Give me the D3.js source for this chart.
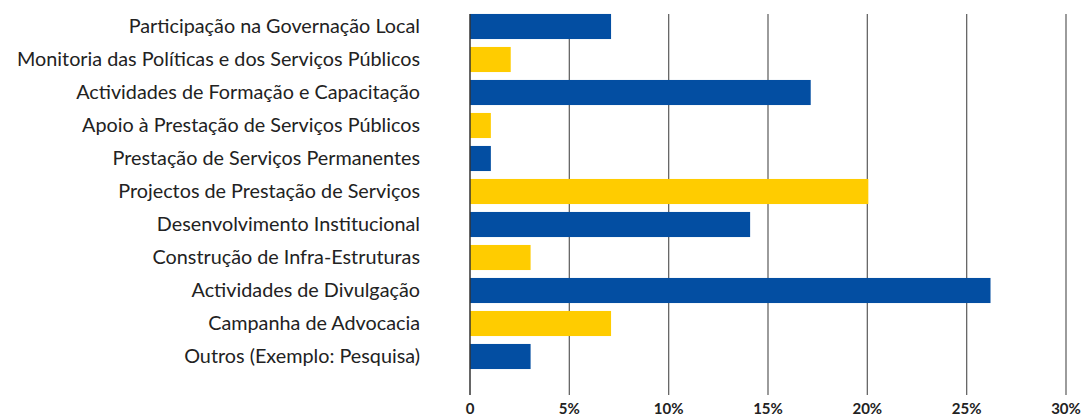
<!DOCTYPE html>
<html><head><meta charset="utf-8">
<script src="https://cdn.jsdelivr.net/npm/d3@7"></script>
<style>body{margin:0;background:#fff}</style>
</head><body>
<script>
const categories = ["Participação na Governação Local","Monitoria das Políticas e dos Serviços Públicos","Actividades de Formação e Capacitação","Apoio à Prestação de Serviços Públicos","Prestação de Serviços Permanentes","Projectos de Prestação de Serviços","Desenvolvimento Institucional","Construção de Infra-Estruturas","Actividades de Divulgação","Campanha de Advocacia","Outros (Exemplo: Pesquisa)"];
const values = [7.1, 2.05, 17.15, 1.05, 1.05, 20.05, 14.1, 3.05, 26.2, 7.1, 3.05];
const barColors = ["blue","yellow","blue","yellow","blue","yellow","blue","yellow","blue","yellow","blue"];
const tickValues = [0,5,10,15,20,25,30];
const tickLabels = ["0","5%","10%","15%","20%","25%","30%"];

const W=1084,H=417;
const m={left:470,right:18,top:10,bottom:22};
const svg=d3.select("body").append("svg").attr("width",W).attr("height",H);
const x=d3.scaleLinear().domain([0,30]).range([m.left,1066]);
const y=d3.scaleBand().domain(categories).range([m.top,m.top+33*11]).paddingInner(0.24).paddingOuter(0.12);
const col={blue:"#034ea2",yellow:"#ffcc00"};

// grid
svg.append("g").selectAll("line").data(tickValues.slice(1)).join("line")
 .attr("x1",d=>x(d)).attr("x2",d=>x(d)).attr("y1",14).attr("y2",395)
 .attr("stroke","#666").attr("stroke-width",1.3);

svg.append("g").selectAll("rect").data(values).join("rect")
 .attr("x",x(0)).attr("y",(d,i)=>y(categories[i]))
 .attr("width",d=>x(d)-x(0)).attr("height",y.bandwidth())
 .attr("fill",(d,i)=>col[barColors[i]]);

svg.append("line").attr("x1",x(0)).attr("x2",x(0)).attr("y1",14).attr("y2",395)
 .attr("stroke","#333").attr("stroke-width",1.5);

// category labels
svg.append("g").selectAll("text").data(categories).join("text")
 .attr("x",420).attr("y",d=>y(d)+y.bandwidth()/2).attr("dy","0.35em")
 .attr("text-anchor","end").attr("font-family","Lato, sans-serif").attr("font-size",19.8)
 .attr("fill","#222").text(d=>d);

// tick labels
svg.append("g").selectAll("text").data(tickValues).join("text")
 .attr("x",d=>x(d)).attr("y",414).attr("text-anchor","middle")
 .attr("font-family","Lato, sans-serif").attr("font-weight","bold").attr("font-size",15)
 .attr("fill","#222").text((d,i)=>tickLabels[i]);
</script>
</body></html>
